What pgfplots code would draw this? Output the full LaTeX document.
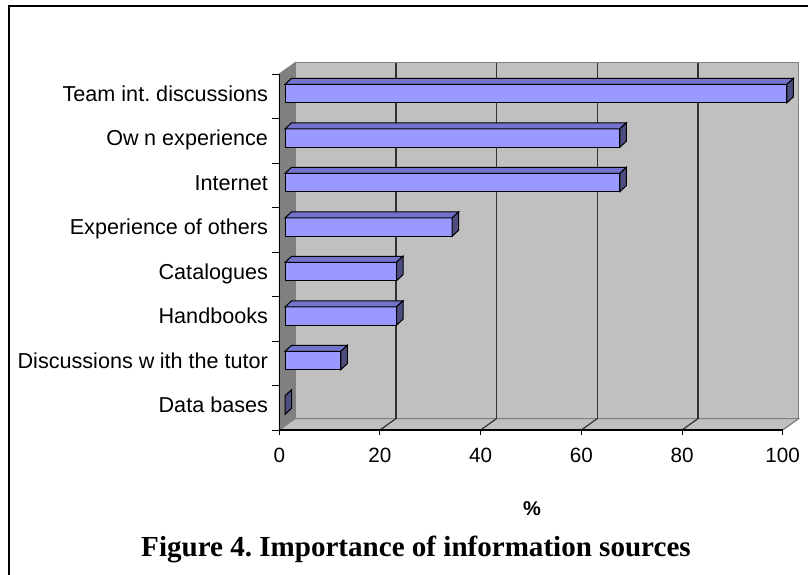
\documentclass[border=0pt]{standalone}
\usepackage{pgfplots}
\pgfplotsset{compat=1.18}
\usepackage{pgfplotstable}
\usepackage{fontspec}
\setmainfont{Liberation Sans}
\newfontfamily\timesfont{Liberation Serif}
\frenchspacing

\definecolor{wall}{RGB}{192,192,192}
\definecolor{sidewall}{RGB}{128,128,128}
\definecolor{barfront}{RGB}{153,153,255}
\definecolor{bartop}{RGB}{115,115,204}
\definecolor{barside}{RGB}{77,77,128}
\definecolor{gridc}{RGB}{50,50,50}

\pgfplotstableread{
pos value
0.5 0
1.5 11.1
2.5 22.2
3.5 22.2
4.5 33.3
5.5 66.7
6.5 66.7
7.5 100
}\bardata

\begin{document}
\begin{tikzpicture}
% chart walls, drawn in the same units as the axis (origin at value 0, category 0)
\begin{scope}[shift={(209.475pt,-322.5pt)}, x=3.7755pt, y=33.375pt]
\path[fill=wall, draw=sidewall, line width=0.75pt] (3.18,0.258) rectangle (103.18,8.258);
\path[fill=sidewall, draw=sidewall, line width=0.75pt] (0,0) -- (0,8) -- (3.18,8.258) -- (3.18,0.258) -- cycle;
\path[fill=wall, draw=sidewall, line width=0.75pt] (0,0) -- (100,0) -- (103.18,0.258) -- (3.18,0.258) -- cycle;
\foreach \v in {20,40,60,80}{
  \draw[gridc, line width=0.9pt] (\v+3.18,0.258) -- (\v+3.18,8.258);
  \draw[gridc, line width=0.9pt] (\v,0) -- (\v+3.18,0.258);
}
\draw[sidewall, line width=0.75pt] (100,0) -- (103.18,0.258);
\end{scope}

\begin{axis}[
  x=3.7755pt, y=33.375pt,
  xmin=0, xmax=100, ymin=0, ymax=8,
  anchor=south west, at={(209.475pt,-322.5pt)},
  clip=false,
  axis line style={draw=none}, tick style={draw=none},
  xtick={0,20,40,60,80,100},
  ytick={0.5,1.5,2.5,3.5,4.5,5.5,6.5,7.5},
  yticklabels={Data bases, Discussions w\hspace{0.25em}ith the tutor, Handbooks, Catalogues, Experience of others, Internet, Ow\hspace{0.25em}n experience, Team int. discussions},
  /pgf/number format/assume math mode=true,
  xticklabel style={font=\fontsize{15.5}{18}\selectfont, yshift=-10pt},
  yticklabel style={font=\fontsize{16.2}{19}\selectfont, anchor=base east, xshift=-5pt, yshift=-3.75pt},
  xbar stacked, reverse stacked plots=false, bar width=13.8pt, bar shift=2.06pt,
]
\addplot[draw=none, fill=none, forget plot] table[x expr=1.152, y=pos]{\bardata};
\addplot[fill=barfront, draw=black, line width=0.75pt] table[x expr=\thisrow{value}*0.997, y=pos]{\bardata};
\addplot[stack plots=false, scatter, only marks, mark=*, mark size=0pt,
  visualization depends on={\thisrow{value}*3.764 \as \barlen},
  scatter/@pre marker code/.code={
    \path[fill=bartop, draw=black, line width=0.75pt] (-\barlen pt, 8.96pt) -- (0pt,8.96pt) -- (4.875pt,13.46pt) -- ({-\barlen pt+4.875pt},13.46pt) -- cycle;
    \path[fill=barside, draw=black, line width=0.75pt] (0pt,-4.84pt) -- (0pt,8.96pt) -- (4.875pt,13.46pt) -- (4.875pt,-0.34pt) -- cycle;
  },
  scatter/@post marker code/.code={},
] table[x expr=\thisrow{value}*0.997+1.152, y=pos]{\bardata};
\end{axis}

% axis lines and tick marks
\begin{scope}[shift={(209.475pt,-322.5pt)}, x=3.7755pt, y=33.375pt]
\draw[black, line width=1pt] (0,8) -- (0,0) -- (100,0);
\foreach \k in {0,...,8}{ \draw[black, line width=0.75pt] (0,\k) -- ++(-5.25pt,0); }
\foreach \v in {0,20,40,60,80,100}{ \draw[black, line width=0.75pt] (\v,0) -- ++(0,-3.75pt); }
\end{scope}

\node[font=\fontsize{15}{18}\selectfont\bfseries] at (399pt,-381.75pt) {\%};
\node[anchor=base, font=\timesfont\fontsize{21.8}{26}\selectfont\bfseries] at (312pt,-417pt) {Figure 4. Importance of information sources};
\draw[black, line width=1.5pt] (6.75pt,-440pt) -- (6.75pt,-4.5pt) -- (615pt,-4.5pt);

\pgfresetboundingbox
\useasboundingbox (0,0) rectangle (606pt,-431.25pt);
\end{tikzpicture}
\end{document}
